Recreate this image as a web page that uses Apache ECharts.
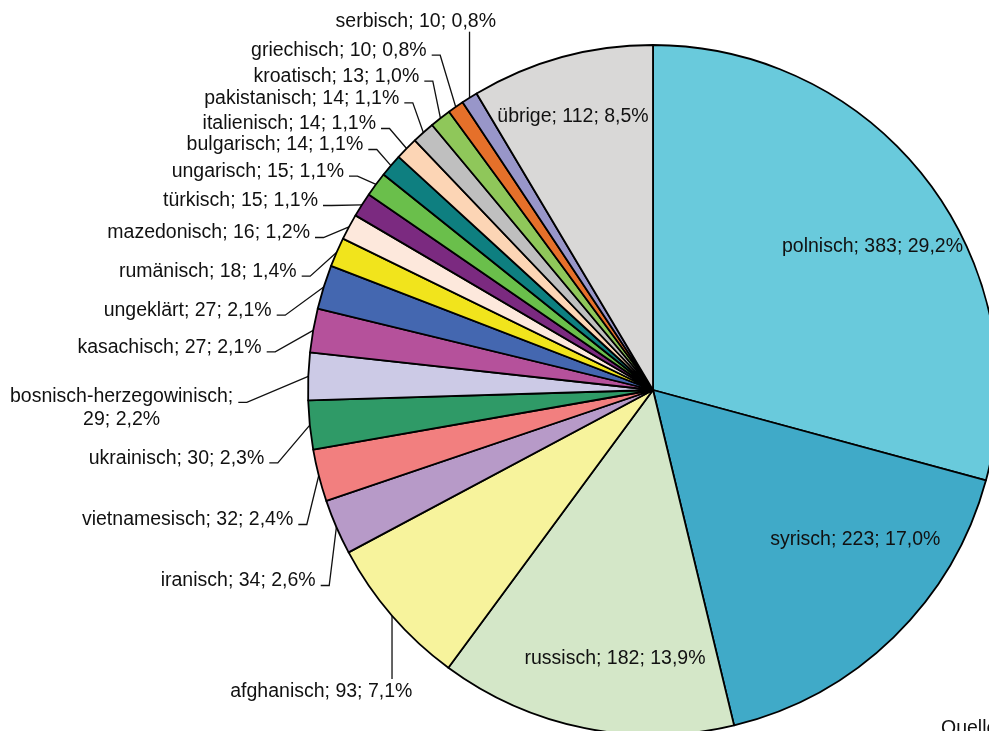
<!DOCTYPE html>
<html>
<head>
<meta charset="utf-8">
<script src="https://cdn.jsdelivr.net/npm/echarts@6/dist/echarts.min.js"></script>
<style>
html,body{margin:0;padding:0;background:#fff;overflow:hidden}
#c{width:989px;height:731px}
</style>
</head>
<body>
<div id="c"></div>
<script>
// ---- data ----
const categories = ['polnisch','syrisch','russisch','afghanisch','iranisch','vietnamesisch','ukrainisch',
  'bosnisch-herzegowinisch','kasachisch','ungeklärt','rumänisch','mazedonisch','türkisch','ungarisch',
  'bulgarisch','italienisch','pakistanisch','kroatisch','griechisch','serbisch','übrige'];
const values = [383,223,182,93,34,32,30,29,27,27,18,16,15,15,14,14,14,13,10,10,112];
const sourceText = 'Quelle: BAMF';

// ---- styles ----
const colors = ['#69cadc','#40aac8','#d4e7c8','#f7f39c','#b79ac8','#f27f7f','#2f9a67',
  '#cccae6','#b5519b','#4467b0','#f1e41c','#fde8dc','#7b2a80','#6abf4b',
  '#0e7f80','#fcd5b5','#bfbfbf','#8fc75a','#e5702a','#9896c9','#d9d8d7'];
const innerNames = ['polnisch','syrisch','russisch','übrige'];
const wrapNames = ['bosnisch-herzegowinisch'];
const CENTER = [653, 390], RADIUS = 345, FONT = 19.5;
// label placement (layout only)
const LABEL_POS = {
  'polnisch': {x:872.5, y:246.5, inner:true},
  'syrisch': {x:855.3, y:539.3, inner:true},
  'russisch': {x:615, y:659, inner:true},
  'übrige': {x:573, y:116.7, inner:true},
  'serbisch': {x:496, y:21.7, vert:31.7},
  'griechisch': {x:426.7, y:50.7},
  'kroatisch': {x:419.3, y:76.7},
  'pakistanisch': {x:399.3, y:98.3},
  'italienisch': {x:376, y:124},
  'bulgarisch': {x:363.3, y:145},
  'ungarisch': {x:344, y:171.7},
  'türkisch': {x:318, y:201},
  'mazedonisch': {x:310, y:233},
  'rumänisch': {x:296.7, y:271.7},
  'ungeklärt': {x:271.7, y:310.7},
  'kasachisch': {x:261.7, y:347.3},
  'bosnisch-herzegowinisch': {x:121.6, y:408.3, center:true, segX:238.3, segY:402.3},
  'ukrainisch': {x:264.3, y:458.3},
  'vietnamesisch': {x:293.3, y:520},
  'iranisch': {x:315.7, y:581},
  'afghanisch': {x:321.3, y:691.7, center:true, vert:679}
};

const total = values.reduce((a, b) => a + b, 0);
function pctText(v) { return (v / total * 100).toFixed(1).replace('.', ',') + '%'; }

const data = categories.map((name, i) => {
  const inner = innerNames.includes(name);
  return {
    name: name,
    value: values[i],
    itemStyle: { color: colors[i] },
    label: { position: inner ? 'inside' : 'outside' },
    labelLine: { show: !inner }
  };
});

function edgePoint(idx) {
  let before = 0;
  for (let i = 0; i < idx; i++) before += values[i];
  const a = (before + values[idx] / 2) / total * 2 * Math.PI;
  return [CENTER[0] + RADIUS * Math.sin(a), CENTER[1] - RADIUS * Math.cos(a)];
}

const chart = echarts.init(document.getElementById('c'), null, { renderer: 'canvas' });
chart.setOption({
  backgroundColor: '#ffffff',
  animation: false,
  graphic: [{
    type: 'text', left: 941, top: 719,
    style: { text: sourceText, font: FONT + 'px "Liberation Sans", Arial, sans-serif', fill: '#111' }
  }],
  series: [{
    type: 'pie',
    center: CENTER,
    radius: RADIUS,
    startAngle: 90,
    clockwise: true,
    avoidLabelOverlap: false,
    silent: true,
    data: data,
    itemStyle: { borderColor: '#000', borderWidth: 1.8 },
    label: {
      show: true,
      color: '#111',
      fontFamily: '"Liberation Sans", Arial, sans-serif',
      fontSize: FONT,
      lineHeight: 23,
      formatter: function (p) {
        const sep = wrapNames.includes(p.name) ? '\n' : ' ';
        return p.name + ';' + sep + p.value + '; ' + pctText(p.value);
      }
    },
    labelLine: { show: true, length: 10, length2: 10, lineStyle: { color: '#111', width: 1.3 } },
    labelLayout: function (p) {
      const name = categories[p.dataIndex];
      const pos = LABEL_POS[name];
      if (!pos) return {};
      if (pos.inner) {
        return { x: pos.x, y: pos.y, align: 'center', verticalAlign: 'middle' };
      }
      const edge = (p.labelLinePoints && p.labelLinePoints[0]) ? p.labelLinePoints[0] : edgePoint(p.dataIndex);
      const out = { x: pos.x, y: pos.y, align: pos.center ? 'center' : 'right', verticalAlign: 'middle' };
      if (pos.vert != null) {
        out.labelLinePoints = [[edge[0], edge[1]], [edge[0], pos.vert]];
      } else {
        const sx = pos.segX != null ? pos.segX : pos.x + 5;
        const sy = pos.segY != null ? pos.segY : pos.y + 4.5;
        out.labelLinePoints = [[edge[0], edge[1]], [sx + 8.5, sy], [sx, sy]];
      }
      return out;
    }
  }]
});
</script>
</body>
</html>
